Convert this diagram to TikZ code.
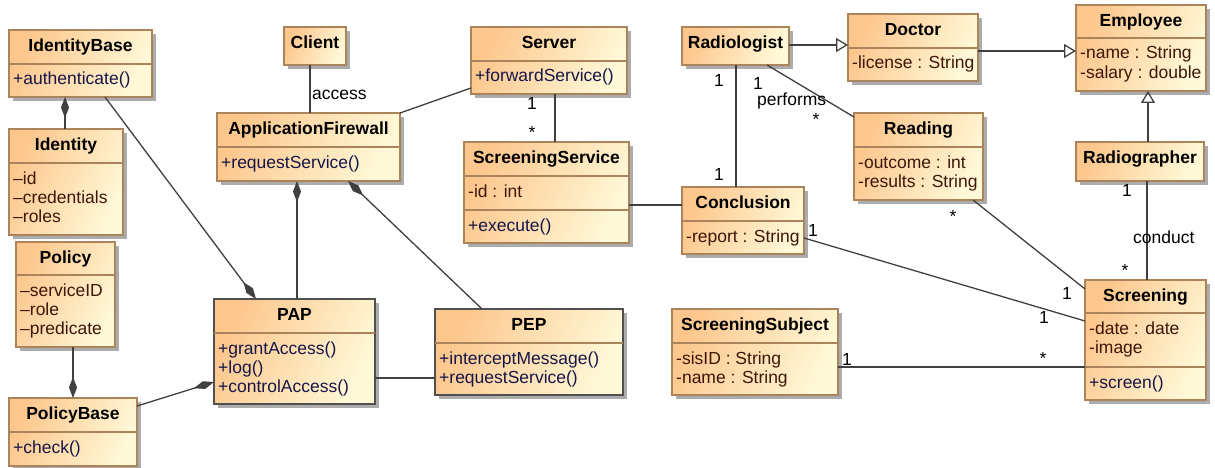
\documentclass[tikz,border=0pt]{standalone}
\usepackage{fontspec}
\setmainfont{Liberation Sans}
\usetikzlibrary{arrows.meta,shadows}

\definecolor{boxA}{RGB}{253,198,140}
\definecolor{boxB}{RGB}{255,249,216}
\definecolor{boxline}{RGB}{172,132,92}
\definecolor{selline}{RGB}{80,80,80}
\definecolor{wire}{RGB}{64,64,64}
\definecolor{attrc}{RGB}{62,22,10}
\definecolor{opc}{RGB}{22,22,72}
\definecolor{shadowc}{RGB}{172,172,172}

\newcommand\umlfont{\fontsize{17.5}{19.5}\selectfont}

\tikzset{
  classbox/.style={rectangle, draw=boxline, line width=1.3pt, inner sep=0pt, outer sep=0pt,
    left color=boxA, right color=boxB, shading angle=65,
    drop shadow={shadow xshift=4pt, shadow yshift=-4pt, fill=shadowc, opacity=1}},
  selbox/.style={draw=selline},
  divline/.style={draw=boxline, line width=1.3pt},
  titletext/.style={inner sep=0pt, font=\umlfont\bfseries, text=black},
  attr/.style={inner sep=0pt, font=\umlfont, text=attrc},
  op/.style={inner sep=0pt, font=\umlfont, text=opc},
  lbl/.style={inner sep=0pt, font=\umlfont, text=black},
  conn/.style={draw=wire, line width=1.3pt},
  comp/.style={conn, -{Diamond[length=21pt,width=8pt]}},
  gen/.style={conn, -{Triangle[open,length=12pt,width=14pt]}},
}

% class box: [extra style] name, left, top, right, bottom, title
\newcommand\umlclass[7][]{%
  \node[classbox,#1, minimum width={#5-#3}, minimum height={#6-#4}, anchor=north west] (#2) at (#3,#4) {};
  \node[titletext, anchor=base] (#2-title) at ({(#3+#5)/2},{#4+21.5}) {#7};
}
% compartment separator of a class box at height y
\newcommand\divider[2]{\draw[divline] (#1.west |- 0,#2) -- (#1.east |- 0,#2);}
% rows of a compartment: name prefix, style, x, first baseline, entries
\newcommand\rows[5]{%
  \foreach \rowtext [count=\i] in {#5} {%
    \node[#2, anchor=base west] (#1-\i) at (#3,{#4+19.4*(\i-1)}) {\rowtext};}}

\begin{document}
\begin{tikzpicture}[x=1pt, y=-1pt]
\useasboundingbox (0,0) rectangle (1215,468);
\fill[white] (0,0) rectangle (1215,468);

% ---- access control part
\umlclass{ib}{9}{30}{152}{97}{IdentityBase}
\divider{ib}{64}
\rows{ib-op}{op}{13}{85}{+authenticate()}

\umlclass{idn}{9}{129}{123}{235}{Identity}
\divider{idn}{163}
\rows{idn-at}{attr}{13}{184}{–id,–credentials,–roles}

\umlclass{cl}{284}{27}{346}{65}{Client}

\umlclass{af}{217}{113}{400}{181}{ApplicationFirewall}
\divider{af}{147}
\rows{af-op}{op}{221}{168}{+requestService()}

\umlclass{pol}{16}{242}{115}{347}{Policy}
\divider{pol}{275}
\rows{pol-at}{attr}{20}{296}{–serviceID,–role,–predicate}

\umlclass{pb}{9}{398}{137}{466}{PolicyBase}
\divider{pb}{432}
\rows{pb-op}{op}{13}{453}{+check()}

\umlclass[selbox]{pap}{214}{299}{375}{404}{PAP}
\divider{pap}{333}
\rows{pap-op}{op}{218}{354}{+grantAccess(),+log(),+controlAccess()}

\umlclass{srv}{471}{27}{627}{94}{Server}
\divider{srv}{61}
\rows{srv-op}{op}{475}{82}{+forwardService()}

\umlclass{ss}{464}{142}{629}{243}{ScreeningService}
\divider{ss}{176}
\divider{ss}{210}
\rows{ss-at}{attr}{468}{197}{-id : int}
\rows{ss-op}{op}{468}{231}{+execute()}

\umlclass[selbox]{pep}{435}{309}{623}{395}{PEP}
\divider{pep}{343}
\rows{pep-op}{op}{439}{364}{+interceptMessage(),+requestService()}

% ---- screening part
\umlclass{rad}{682}{27}{789}{65}{Radiologist}

\umlclass{con}{682}{187}{804}{254}{Conclusion}
\divider{con}{221}
\rows{con-at}{attr}{686}{242}{-report : String}

\umlclass{subj}{672}{309}{838}{395}{ScreeningSubject}
\divider{subj}{343}
\rows{subj-at}{attr}{676}{364}{-sisID : String,-name : String}

\umlclass{doc}{848}{14}{978}{81}{Doctor}
\divider{doc}{48}
\rows{doc-at}{attr}{852}{69}{-license : String}

\umlclass{emp}{1076}{5}{1206}{91}{Employee}
\divider{emp}{38}
\rows{emp-at}{attr}{1080}{59}{-name : String,-salary : double}

\umlclass{rdg}{854}{113}{983}{200}{Reading}
\divider{rdg}{147}
\rows{rdg-at}{attr}{858}{168}{-outcome : int,-results : String}

\umlclass{rg}{1076}{142}{1204}{181}{Radiographer}

\umlclass{scr}{1085}{280}{1206}{400}{Screening}
\divider{scr}{313}
\divider{scr}{367}
\rows{scr-at}{attr}{1089}{334}{-date : date,-image}
\rows{scr-op}{op}{1089}{388}{+screen()}

% ---- connectors
\draw[comp] ([xshift=56pt]idn.north west) -- ([xshift=56pt]ib.south west);
\draw[comp] ([xshift=96pt]ib.south west) -- ([xshift=42pt]pap.north west);
\draw[conn] ([xshift=26pt]cl.south west) -- ([xshift=93pt]af.north west);
\draw[conn] (af.north east) -- ([yshift=6pt]srv.south west);
\draw[comp] ([xshift=83pt]pap.north west) -- ([xshift=80pt]af.south west);
\draw[comp] ([xshift=47pt]pep.north west) -- ([xshift=131pt]af.south west);
\draw[conn] ([xshift=84pt]srv.south west) -- ([xshift=91pt]ss.north west);
\draw[conn] ([yshift=-63pt]ss.north east) -- ([yshift=-18pt]con.north west);
\draw[conn] ([yshift=-79pt]pap.north east) -- ([yshift=-69pt]pep.north west);
\draw[comp] ([yshift=-8pt]pb.north east) -- ([yshift=-83pt]pap.north west);
\draw[comp] ([xshift=57pt]pol.south west) -- ([xshift=64pt]pb.north west);
\draw[gen] ([yshift=-18pt]rad.north east) -- ([yshift=-31pt]doc.north west);
\draw[gen] ([yshift=-37pt]doc.north east) -- ([yshift=-46pt]emp.north west);
\draw[gen] ([xshift=72pt]rg.north west) -- ([xshift=72pt]emp.south west);
\draw[conn] ([xshift=54pt]rad.south west) -- ([xshift=54pt]con.north west);
\draw[conn] ([xshift=85pt]rad.south west) -- ([yshift=-4pt]rdg.north west);
\draw[conn] ([xshift=119pt]rdg.south west) -- ([yshift=-9pt]scr.north west);
\draw[conn] ([yshift=-51pt]con.north east) -- ([yshift=-41pt]scr.north west);
\draw[conn] ([xshift=71pt]rg.south west) -- ([xshift=62pt]scr.north west);
\draw[conn] ([yshift=-58pt]subj.north east) -- ([yshift=-87pt]scr.north west);

% ---- association labels and multiplicities
\node[lbl, anchor=base west] (l-access) at (312,100) {access};
\node[lbl, anchor=base] (m1) at (532,110) {1};
\node[lbl, anchor=base] (m2) at (532,139) {*};
\node[lbl, anchor=base] (m3) at (719,87) {1};
\node[lbl, anchor=base] (m4) at (719,180) {1};
\node[lbl, anchor=base] (m5) at (758,89.5) {1};
\node[lbl, anchor=base west] (l-performs) at (757,106) {performs};
\node[lbl, anchor=base] (m6) at (816,125) {*};
\node[lbl, anchor=base] (m7) at (953,222) {*};
\node[lbl, anchor=base] (m8) at (1067,299) {1};
\node[lbl, anchor=base] (m9) at (813,236) {1};
\node[lbl, anchor=base] (m10) at (1044,323) {1};
\node[lbl, anchor=base] (m11) at (847,365) {1};
\node[lbl, anchor=base] (m12) at (1043,364) {*};
\node[lbl, anchor=base] (m13) at (1127,196) {1};
\node[lbl, anchor=base west] (l-conduct) at (1133,243) {conduct};
\node[lbl, anchor=base] (m14) at (1125,276) {*};
\end{tikzpicture}
\end{document}
